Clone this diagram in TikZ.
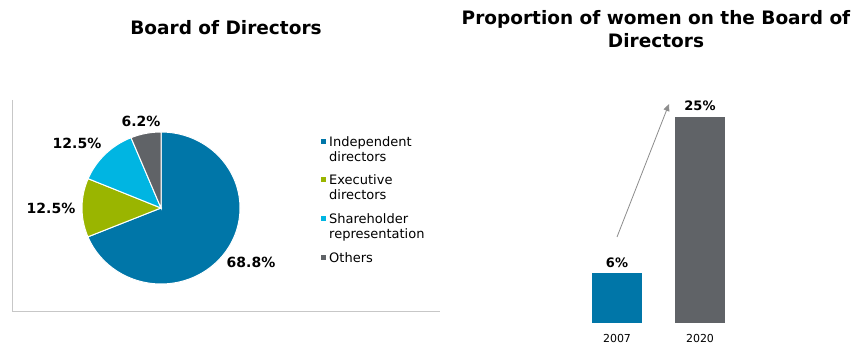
\documentclass[tikz,border=0pt]{standalone}
\usepackage{fontspec}
\setmainfont{DejaVu Sans}
\usetikzlibrary{arrows.meta}
\definecolor{indblue}{RGB}{0,118,168}
\definecolor{exegreen}{RGB}{154,181,0}
\definecolor{shacyan}{RGB}{0,181,226}
\definecolor{othgray}{RGB}{96,99,103}
\tikzset{
  title/.style={font=\fontsize{18.5}{23}\selectfont\bfseries,align=center},
  pct/.style={font=\fontsize{14}{16}\selectfont\bfseries},
  barpct/.style={font=\fontsize{13}{15}\selectfont\bfseries},
  leg/.style={anchor=west,align=left,inner sep=0pt,font=\fontsize{13}{15}\selectfont},
  sq/.style={minimum size=5pt,inner sep=0pt},
  slice/.style={draw=white,line width=1pt},
  bar/.style={inner sep=0pt,anchor=south}
}
\begin{document}
\begin{tikzpicture}[x=1pt,y=-1pt]
  \useasboundingbox[fill=white] (0,0) rectangle (857,344);
  % draw titles
  \node[title] (tboard) at (226,28) {Board of Directors};
  \node[title] (twomen) at (656,29.5) {Proportion of women on the Board of\\Directors};
  % draw frame
  \draw[black!22] (12,100) -- (12,311) -- (440,311);
  % draw pie
  \coordinate (pc) at (161,208);
  \filldraw[slice,fill=indblue] (pc) -- ++(90:79pt and 76pt) arc[start angle=90,end angle=-157.7,x radius=79pt,y radius=76pt] -- cycle;
  \filldraw[slice,fill=exegreen] (pc) -- ++(202.3:79pt and 76pt) arc[start angle=202.3,end angle=157.3,x radius=79pt,y radius=76pt] -- cycle;
  \filldraw[slice,fill=shacyan] (pc) -- ++(157.3:79pt and 76pt) arc[start angle=157.3,end angle=112.3,x radius=79pt,y radius=76pt] -- cycle;
  \filldraw[slice,fill=othgray] (pc) -- ++(112.3:79pt and 76pt) arc[start angle=112.3,end angle=90,x radius=79pt,y radius=76pt] -- cycle;
  % pie labels
  \node[pct] (poth) at (141,121) {6.2\%};
  \node[pct] (psha) at (77,143) {12.5\%};
  \node[pct] (pexe) at (51,208) {12.5\%};
  \node[pct] (pind) at (251,262) {68.8\%};
  % legend
  \node[sq,fill=indblue] (sind) at (323,142) {};
  \node[leg] (lind) at (329,149.5) {Independent\\directors};
  \node[sq,fill=exegreen] (sexe) at (323,180) {};
  \node[leg] (lexe) at (329,187.5) {Executive\\directors};
  \node[sq,fill=shacyan] (ssha) at (323,219) {};
  \node[leg] (lsha) at (329,227) {Shareholder\\representation};
  \node[sq,fill=othgray] (soth) at (323,258) {};
  \node[leg] (loth) at (329,258) {Others};
  % draw bars
  \node[bar,fill=indblue,minimum width=50pt,minimum height=50pt] (b07) at (617,323) {};
  \node[bar,fill=othgray,minimum width=50pt,minimum height=206pt] (b20) at (700,323) {};
  \node[barpct] (v07) at (617,263) {6\%};
  \node[barpct] (v20) at (700,106) {25\%};
  \node[font=\fontsize{11}{13}\selectfont] (y07) at (617,338) {2007};
  \node[font=\fontsize{11}{13}\selectfont] (y20) at (700,338) {2020};
  % draw arrow
  \coordinate (astart) at (617,237);
  \coordinate (aend) at (669,104);
  \draw[black!45,line width=.8pt,-{Triangle[length=7pt,width=6pt]}] (astart) -- (aend);
\end{tikzpicture}
\end{document}
